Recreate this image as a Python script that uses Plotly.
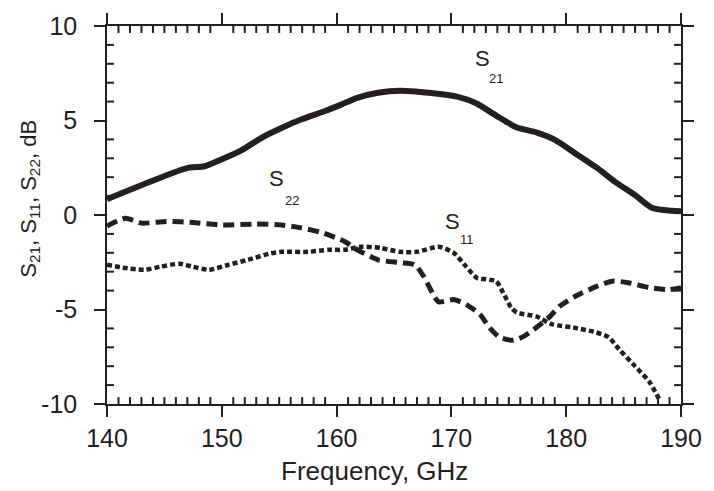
import plotly.graph_objects as go

# Transmission S21 (dB)
s21_f = [140.0, 146.9, 148.5, 150.0, 151.7, 153.5, 155.2, 156.9, 159.0, 160.4, 161.8, 163.6,
         165.5, 168.8, 170.5, 172.2, 173.9, 175.7, 177.4, 179.1, 180.8, 182.6, 184.3, 186.0,
         187.5, 189.2, 190.0]
s21_db = [0.84, 2.47, 2.58, 2.95, 3.42, 4.10, 4.60, 5.05, 5.50, 5.84, 6.20, 6.47,
          6.58, 6.42, 6.26, 5.90, 5.26, 4.63, 4.37, 3.95, 3.26, 2.53, 1.74, 1.05,
          0.37, 0.22, 0.20]

# Output reflection S22 (dB)
s22_f = [140.0, 141.6, 143.0, 145.2, 147.5, 150.0, 153.0, 155.2, 156.9, 158.7, 160.7, 161.8,
         163.6, 165.5, 166.8, 167.6, 168.5, 168.9, 170.2, 171.3, 172.5, 173.3, 174.2, 175.4,
         176.3, 177.4, 178.5, 179.4, 180.8, 182.6, 184.0, 185.4, 187.2, 188.9, 190.0]
s22_db = [-0.58, -0.17, -0.43, -0.34, -0.40, -0.53, -0.48, -0.53, -0.68, -0.93, -1.40, -1.84,
          -2.37, -2.52, -2.63, -3.26, -4.30, -4.60, -4.47, -4.74, -5.26, -5.95, -6.47, -6.63,
          -6.42, -5.95, -5.42, -4.84, -4.30, -3.79, -3.50, -3.58, -3.84, -3.95, -3.84]

# Input reflection S11 (dB)
s11_f = [140.0, 141.4, 143.3, 144.6, 146.3, 147.5, 148.9, 150.6, 152.3, 154.1, 155.2, 157.5,
         159.3, 160.7, 162.1, 163.8, 165.5, 167.0, 168.9, 170.2, 171.3, 172.2, 173.9, 174.5,
         175.2, 175.7, 177.4, 178.8, 180.6, 182.6, 183.7, 184.6, 186.0, 187.2, 188.1]
s11_db = [-2.63, -2.79, -2.90, -2.74, -2.58, -2.74, -2.90, -2.63, -2.37, -2.05, -1.95, -1.95,
          -1.84, -1.84, -1.68, -1.74, -1.95, -1.95, -1.68, -2.00, -2.74, -3.32, -3.50, -4.10,
          -4.90, -5.16, -5.37, -5.79, -5.95, -6.21, -6.47, -7.10, -8.00, -8.79, -9.74]

x_ticks = [140, 150, 160, 170, 180, 190]
x_ticktext = ["140", "150", "160", "170", "180", "190"]
y_ticks = [-10, -5, 0, 5, 10]
y_ticktext = ["-10", "-5", "0", "5", "10"]

INK = "#231f20"
FONT = "Liberation Sans, Arial, sans-serif"

W, H = 714, 491
ML, MR, MT, MB = 107, 28, 24, 87
PW, PH = W - ML - MR, H - MT - MB

x0, x1 = x_ticks[0], x_ticks[-1]
y0, y1 = y_ticks[0], y_ticks[-1]

fig = go.Figure()

# Minor ticks (every 1 GHz / 1 dB) pointing into the frame on all four sides,
# drawn as one segmented line trace; length converted from pixels to data units
MINOR_PX = 7
dy_len = MINOR_PX * (y1 - y0) / PH
dx_len = MINOR_PX * (x1 - x0) / PW
tick_x, tick_y = [], []
for f in range(x0 + 1, x1):
    if f % 10:
        tick_x += [f, f, None, f, f, None]
        tick_y += [y0, y0 + dy_len, None, y1, y1 - dy_len, None]
for d in range(y0 + 1, y1):
    if d % 5:
        tick_x += [x0, x0 + dx_len, None, x1, x1 - dx_len, None]
        tick_y += [d, d, None, d, d, None]
fig.add_trace(go.Scatter(x=tick_x, y=tick_y, mode="lines", hoverinfo="skip",
                         line=dict(color=INK, width=2), connectgaps=False))

fig.add_trace(go.Scatter(x=s22_f, y=s22_db, mode="lines",
                         line=dict(color=INK, width=5, dash="11px,6px", shape="spline", smoothing=0.6)))
fig.add_trace(go.Scatter(x=s11_f, y=s11_db, mode="lines",
                         line=dict(color=INK, width=4.5, dash="5px,3px", shape="spline", smoothing=0.6)))
fig.add_trace(go.Scatter(x=s21_f, y=s21_db, mode="lines",
                         line=dict(color=INK, width=6, shape="spline", smoothing=0.6)))

# Curve labels: letter plus a lowered subscript index
labels = [
    ("S", 172.7, 8.26, 22), ("21", 173.9, 7.2, 13),
    ("S", 154.8, 1.95, 22), ("22", 156.1, 0.79, 13),
    ("S", 170.1, -0.32, 22), ("11", 171.4, -1.3, 13),
]
for txt, fx, fy, sz in labels:
    fig.add_annotation(x=fx, y=fy, text=txt, showarrow=False,
                       font=dict(family=FONT, size=sz, color=INK),
                       xanchor="center", yanchor="middle")

# Axis titles
fig.add_annotation(xref="paper", yref="paper", x=(377 - ML) / PW, y=-(471 - (MT + PH)) / PH,
                   text="Frequency, GHz", showarrow=False,
                   font=dict(family=FONT, size=26, color=INK),
                   xanchor="center", yanchor="middle")
fig.add_annotation(xref="paper", yref="paper", x=-(ML - 29) / PW, y=((MT + PH) - 198) / PH,
                   text="S<sub>21</sub>, S<sub>11</sub>, S<sub>22</sub>, dB", showarrow=False,
                   textangle=-90, font=dict(family=FONT, size=22, color=INK),
                   xanchor="center", yanchor="middle")

axis_common = dict(
    showgrid=False, zeroline=False, showline=True, linecolor=INK, linewidth=1.5,
    ticks="outside", ticklen=11, tickwidth=1.5, tickcolor=INK, mirror="ticks",
    tickfont=dict(family=FONT, size=25, color=INK),
)

fig.update_xaxes(range=[x0, x1], tickmode="array", tickvals=x_ticks, ticktext=x_ticktext, **axis_common)
fig.update_yaxes(range=[y0, y1], tickmode="array", tickvals=y_ticks, ticktext=y_ticktext,
                 ticklabelstandoff=12, **axis_common)

fig.update_layout(
    width=W, height=H,
    margin=dict(l=ML, r=MR, t=MT, b=MB),
    paper_bgcolor="white", plot_bgcolor="white",
    showlegend=False,
)

fig.write_html("out.html")
